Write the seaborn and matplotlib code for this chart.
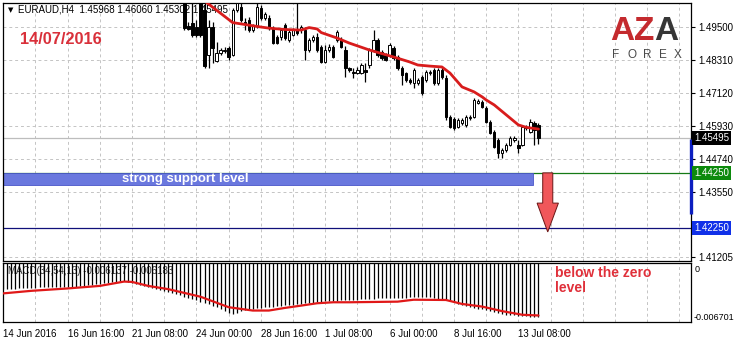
import numpy as np
import matplotlib
matplotlib.use("Agg")
import matplotlib.pyplot as plt
import seaborn as sns
from matplotlib.transforms import blended_transform_factory
from matplotlib.patches import Rectangle, Polygon
from matplotlib.ticker import FixedLocator, NullFormatter

# ---------------- data ----------------
symbol = "EURAUD,H4"
date_text = "14/07/2016"
last_ohlc = ["1.45968", "1.46060", "1.45302", "1.45495"]

candle_first_bar = 45
opens = [1.5085, 1.4955, 1.4966, 1.4951, 1.5066, 1.5012, 1.4850, 1.4951, 1.4828, 1.4857,
         1.4864, 1.4875, 1.4850, 1.5012, 1.5023, 1.4969, 1.4976, 1.4940, 1.4955, 1.5020,
         1.4984, 1.4984, 1.4947, 1.4915, 1.4915, 1.4958, 1.4904, 1.4922, 1.4940, 1.4940,
         1.4940, 1.4868, 1.4904, 1.4915, 1.4879, 1.4825, 1.4868, 1.4879, 1.4904, 1.4904,
         1.4868, 1.4803, 1.4789, 1.4785, 1.4785, 1.4796, 1.4814, 1.4868, 1.4904, 1.4861,
         1.4850, 1.4850, 1.4875, 1.4843, 1.4803, 1.4785, 1.4760, 1.4749, 1.4749, 1.4771,
         1.4760, 1.4785, 1.4796, 1.4749, 1.4796, 1.4767, 1.4627, 1.4619, 1.4590, 1.4605,
         1.4598, 1.4623, 1.4627, 1.4677, 1.4681, 1.4659, 1.4609, 1.4572, 1.4544, 1.4497,
         1.4508, 1.4526, 1.4544, 1.4526, 1.4526, 1.4590, 1.4572, 1.4605, 1.45968]
highs = [1.5103, 1.4969, 1.5056, 1.4976, 1.5085, 1.5048, 1.4976, 1.4969, 1.4897, 1.4875,
         1.4879, 1.4883, 1.5020, 1.5066, 1.5038, 1.4984, 1.4987, 1.4962, 1.5038, 1.5030,
         1.5005, 1.4994, 1.4955, 1.4922, 1.4947, 1.4966, 1.4940, 1.4947, 1.5048, 1.4958,
         1.4951, 1.4911, 1.4922, 1.4929, 1.4886, 1.4886, 1.4890, 1.4886, 1.4940, 1.4915,
         1.4883, 1.4807, 1.4803, 1.4807, 1.4821, 1.4821, 1.4875, 1.4940, 1.4911, 1.4868,
         1.4857, 1.4893, 1.4883, 1.4850, 1.4810, 1.4789, 1.4767, 1.4803, 1.4767, 1.4778,
         1.4796, 1.4796, 1.4803, 1.4803, 1.4807, 1.4778, 1.4634, 1.4627, 1.4623, 1.4623,
         1.4634, 1.4634, 1.4695, 1.4691, 1.4688, 1.4666, 1.4616, 1.4580, 1.4551, 1.4515,
         1.4533, 1.4558, 1.4558, 1.4544, 1.4598, 1.4598, 1.4619, 1.4612, 1.46060]
lows = [1.4940, 1.4940, 1.4915, 1.4915, 1.4915, 1.4803, 1.4803, 1.4821, 1.4825, 1.4850,
        1.4857, 1.4832, 1.4846, 1.5005, 1.4969, 1.4940, 1.4933, 1.4933, 1.4947, 1.4976,
        1.4976, 1.4940, 1.4890, 1.4890, 1.4904, 1.4904, 1.4897, 1.4919, 1.4922, 1.4929,
        1.4832, 1.4861, 1.4897, 1.4861, 1.4821, 1.4821, 1.4861, 1.4839, 1.4897, 1.4875,
        1.4771, 1.4789, 1.4767, 1.4782, 1.4782, 1.4753, 1.4803, 1.4861, 1.4843, 1.4832,
        1.4828, 1.4843, 1.4832, 1.4796, 1.4742, 1.4753, 1.4746, 1.4731, 1.4742, 1.4706,
        1.4753, 1.4778, 1.4742, 1.4742, 1.4764, 1.4616, 1.4587, 1.4580, 1.4587, 1.4598,
        1.4590, 1.4616, 1.4623, 1.4673, 1.4659, 1.4605, 1.4565, 1.4515, 1.4479, 1.4479,
        1.4500, 1.4522, 1.4536, 1.4497, 1.4522, 1.4580, 1.4569, 1.4526, 1.45302]
closes = [1.4947, 1.4944, 1.4922, 1.4922, 1.4922, 1.4810, 1.4951, 1.4875, 1.4857, 1.4868,
          1.4868, 1.4843, 1.5012, 1.5038, 1.4976, 1.4962, 1.4940, 1.4955, 1.5023, 1.4984,
          1.4998, 1.4947, 1.4893, 1.4893, 1.4940, 1.4911, 1.4933, 1.4940, 1.4929, 1.4951,
          1.4868, 1.4904, 1.4915, 1.4868, 1.4825, 1.4868, 1.4879, 1.4843, 1.4933, 1.4879,
          1.4803, 1.4796, 1.4785, 1.4796, 1.4814, 1.4789, 1.4868, 1.4904, 1.4850, 1.4839,
          1.4832, 1.4886, 1.4839, 1.4803, 1.4778, 1.4760, 1.4753, 1.4796, 1.4760, 1.4713,
          1.4789, 1.4789, 1.4749, 1.4796, 1.4771, 1.4627, 1.4590, 1.4587, 1.4616, 1.4616,
          1.4627, 1.4627, 1.4688, 1.4684, 1.4663, 1.4609, 1.4569, 1.4519, 1.4497, 1.4508,
          1.4526, 1.4551, 1.4551, 1.4515, 1.4590, 1.4587, 1.4609, 1.4580, 1.45495]

ma_bars = [49, 51, 57, 64, 66, 70, 74, 76, 78, 79, 83, 86, 91, 97, 101, 103, 106, 109,
           111, 114, 117, 119, 120, 122, 125, 128, 130, 133]
ma_values = [1.5057, 1.5034, 1.4967, 1.4951, 1.4947, 1.4942, 1.4940, 1.4949, 1.4944, 1.4931,
             1.4911, 1.4893, 1.4868, 1.4843, 1.4825, 1.4814, 1.4810, 1.4807, 1.4785, 1.4735,
             1.4717, 1.4699, 1.4688, 1.4670, 1.4634, 1.4598, 1.4589, 1.4583]

macd_hist = [-0.00297, -0.00294, -0.00292, -0.00290, -0.00288, -0.00285, -0.00282, -0.00280,
             -0.00279, -0.00278, -0.00278, -0.00278, -0.00277, -0.00277, -0.00277, -0.00276,
             -0.00274, -0.00271, -0.00268, -0.00264, -0.00260, -0.00253, -0.00246, -0.00239,
             -0.00233, -0.00229, -0.00225, -0.00220, -0.00216, -0.00210, -0.00204, -0.00212,
             -0.00222, -0.00233, -0.00245, -0.00258, -0.00269, -0.00280, -0.00292, -0.00304,
             -0.00315, -0.00328, -0.00341, -0.00355, -0.00369, -0.00383, -0.00397, -0.00411,
             -0.00425, -0.00440, -0.00455, -0.00470, -0.00486, -0.00502, -0.00525, -0.00548,
             -0.00570, -0.00577, -0.00570, -0.00542, -0.00532, -0.00526, -0.00521, -0.00515,
             -0.00509, -0.00504, -0.00500, -0.00496, -0.00492, -0.00487, -0.00482, -0.00477,
             -0.00472, -0.00467, -0.00463, -0.00458, -0.00454, -0.00450, -0.00446, -0.00441,
             -0.00437, -0.00432, -0.00428, -0.00426, -0.00424, -0.00422, -0.00420, -0.00417,
             -0.00415, -0.00412, -0.00409, -0.00407, -0.00405, -0.00403, -0.00401, -0.00400,
             -0.00399, -0.00398, -0.00397, -0.00394, -0.00392, -0.00390, -0.00390, -0.00390,
             -0.00390, -0.00390, -0.00391, -0.00398, -0.00405, -0.00413, -0.00420, -0.00433,
             -0.00448, -0.00462, -0.00478, -0.00490, -0.00500, -0.00510, -0.00519, -0.00525,
             -0.00534, -0.00545, -0.00558, -0.00570, -0.00578, -0.00585, -0.00590, -0.00596,
             -0.00600, -0.00604, -0.00607, -0.00610, -0.00612, -0.00614]
signal_bars = [0, 7, 16, 24, 30, 32, 36, 41, 49, 56, 59, 62, 66, 70, 74, 78, 82, 86, 98,
               102, 110, 114, 119, 124, 129, 133]
signal_values = [-0.00345, -0.00316, -0.00289, -0.00260, -0.00211, -0.00215, -0.00260,
                 -0.00297, -0.00383, -0.00502, -0.00521, -0.00540, -0.00540, -0.00510,
                 -0.00484, -0.00457, -0.00446, -0.00446, -0.00439, -0.00417, -0.00420,
                 -0.00465, -0.00495, -0.00547, -0.00588, -0.00596]
macd_label = "MACD(34,54,13) -0.006137 -0.006183"
macd_min_label = "-0.006701"

x_tick_bars = [0, 16, 32, 48, 64, 80, 96, 112, 128]
x_tick_labels = ["14 Jun 2016", "16 Jun 16:00", "21 Jun 08:00", "24 Jun 00:00",
                 "28 Jun 16:00", "1 Jul 08:00", "6 Jul 00:00", "8 Jul 16:00", "13 Jul 08:00"]
price_ticks = [1.49500, 1.48310, 1.47120, 1.45930, 1.44740, 1.43550, 1.41205]
price_tick_labels = ["1.49500", "1.48310", "1.47120", "1.45930", "1.44740", "1.43550", "1.41205"]

bid_price = 1.45495
support_level = 1.44250
target_level = 1.42250
support_zone_bottom = 1.43802
support_zone_end_bar = 131.6
support_text = "strong support level"
macd_note = "below the zero\nlevel"

# ---------------- style ----------------
sns.set_style("white")
plt.rcParams['font.family'] = ['Liberation Sans', 'DejaVu Sans']

W, H = 734, 343
fig = plt.figure(figsize=(W / 100, H / 100), dpi=100)
fig.patch.set_facecolor("white")


def fx(x):
    return x / W


def fy(y):
    return 1 - y / H


ax = fig.add_axes([fx(3), fy(261), fx(691) - fx(3), fy(3) - fy(261)])
axm = fig.add_axes([fx(3), fy(322), fx(691) - fx(3), fy(263) - fy(322)], sharex=ax)

for a in (ax, axm):
    for s in a.spines.values():
        s.set_color("black")
        s.set_linewidth(0.9)
    a.set_facecolor("white")

ax.set_xlim(-0.075, 170.9)
ax.set_ylim(1.41072, 1.50376)
axm.set_ylim(-0.006701, 0.0)

grid_kw = dict(color="#c4c4c4", linestyle=(0, (3, 3)), linewidth=0.7)
minor_bars = list(range(8, 171, 8))
for a in (ax, axm):
    a.xaxis.set_minor_locator(FixedLocator(minor_bars))
    a.xaxis.set_minor_formatter(NullFormatter())
    a.grid(True, which="both", axis="x", **grid_kw)
    a.set_axisbelow(True)

axm.set_xticks(x_tick_bars)
axm.set_xticklabels(x_tick_labels)
for lab in axm.get_xticklabels():
    lab.set_horizontalalignment("left")
axm.tick_params(axis="x", which="major", length=3, width=0.8, pad=2, labelsize=7, colors="black")
axm.tick_params(axis="x", which="minor", length=0)
axm.set_yticks([])
ax.tick_params(axis="x", which="both", length=0, labelbottom=False)

ax.set_yticks(price_ticks)
ax.set_yticklabels(price_tick_labels)
ax.yaxis.tick_right()
ax.tick_params(axis="y", length=3, width=0.8, pad=2, labelsize=7, colors="black")
ax.grid(True, which="major", axis="y", **grid_kw)

# ---------------- main panel ----------------
bars = np.arange(candle_first_bar, candle_first_bar + len(opens))
o = np.array(opens)
h = np.array(highs)
l = np.array(lows)
c = np.array(closes)
up = c >= o
body_lo = np.minimum(o, c)
body_h = np.maximum(np.abs(c - o), 0.00008)

ax.vlines(bars, l, h, color="black", linewidth=0.9, zorder=3)
ax.bar(bars[up], body_h[up], bottom=body_lo[up], width=0.58, color="white",
       edgecolor="black", linewidth=0.7, zorder=4)
ax.bar(bars[~up], body_h[~up], bottom=body_lo[~up], width=0.58, color="black",
       edgecolor="black", linewidth=0.7, zorder=4)

sns.lineplot(x=ma_bars, y=ma_values, ax=ax, color="#d81c1c", linewidth=2.0,
             estimator=None, sort=False, zorder=5)

# bid line and levels
ax.axhline(bid_price, color="#bdbdbd", linewidth=0.9, zorder=1)
ax.axhline(support_level, color="#157a15", linewidth=0.9, zorder=2)
ax.axhline(target_level, color="#10107a", linewidth=0.9, zorder=2)

# support zone
ax.add_patch(Rectangle((-0.075, support_zone_bottom), support_zone_end_bar + 0.075,
                       support_level - support_zone_bottom, facecolor="#6a78de",
                       edgecolor="#4a56c8", linewidth=0.6, zorder=2))
ax.text(29.6, (support_level + support_zone_bottom) / 2, support_text, color="white",
        fontsize=9.5, fontweight="bold", va="center", ha="left", zorder=3)

# red down arrow
arrow_bar = 135.3
shaft_half = 1.25
head_half = 2.65
head_start = 1.4316
arrow_tip = 1.4212
arrow_pts = [(arrow_bar - shaft_half, support_level), (arrow_bar + shaft_half, support_level),
             (arrow_bar + shaft_half, head_start), (arrow_bar + head_half, head_start),
             (arrow_bar, arrow_tip), (arrow_bar - head_half, head_start),
             (arrow_bar - shaft_half, head_start)]
ax.add_patch(Polygon(arrow_pts, closed=True, facecolor="#f0575a", edgecolor="#6a1515",
                     linewidth=0.7, zorder=6))

# right side marker bar
bt = blended_transform_factory(ax.transAxes, ax.transData)
ax.plot([0.9993, 0.9993], [1.4547, 1.4277], transform=bt, color="#0c1ec0",
        linewidth=2.4, solid_capstyle="butt", clip_on=False, zorder=7)

# price label boxes
for price, fc in ((bid_price, "black"), (support_level, "#0c8a0c"), (target_level, "#1030e8")):
    ax.text(1.0045, price, f"{price:.5f}", transform=bt, ha="left", va="center",
            fontsize=7, color="white", zorder=8, clip_on=False,
            bbox=dict(boxstyle="square,pad=0.2", facecolor=fc, edgecolor="none"))

# header texts
ax.text(fx(8), fy(10), "\u25BC", transform=fig.transFigure, fontsize=5, color="black",
        va="center", ha="left", family="DejaVu Sans", zorder=1)
ax.text(fx(18), fy(10), symbol + "  " + " ".join(last_ohlc), transform=fig.transFigure,
        fontsize=7, color="black", va="center", ha="left", zorder=1)
ax.text(fx(20), fy(40), date_text, transform=fig.transFigure, fontsize=11.8,
        color="#d9303a", va="center", ha="left", fontweight="bold", zorder=1)

# logo
for ch, xc, col in (("A", 622, "#c42a2e"), ("Z", 644, "#c42a2e"), ("A", 666, "#363636")):
    ax.text(fx(xc), fy(31), ch, transform=fig.transFigure, fontsize=24, fontweight="bold",
            color=col, ha="center", va="center", zorder=1)
for k, ch in enumerate("FOREX"):
    ax.text(fx(616 + 15.5 * k), fy(55), ch, transform=fig.transFigure, fontsize=8.5,
            color="#4a4a4a", ha="center", va="center", zorder=1)

# ---------------- MACD panel ----------------
hist_bars = np.arange(len(macd_hist))
axm.vlines(hist_bars, 0, macd_hist, color="black", linewidth=0.9, zorder=2)
sns.lineplot(x=signal_bars, y=signal_values, ax=axm, color="#e01818", linewidth=1.6,
             estimator=None, sort=False, zorder=3)
axm.set_xlabel("")
axm.set_ylabel("")
ax.set_xlabel("")
ax.set_ylabel("")

axm.text(fx(8), fy(271), macd_label, transform=fig.transFigure, fontsize=7,
         color="#303030", va="center", ha="left", zorder=1)
axm.text(fx(555), fy(266), macd_note, transform=fig.transFigure, fontsize=10,
         fontweight="bold", color="#e0303a", va="top", ha="left", linespacing=1.1, zorder=4)
fig.text(fx(695), fy(270), "0", fontsize=6.5, color="black", va="center", ha="left")
fig.text(fx(694), fy(317), macd_min_label, fontsize=6.5, color="black", va="center", ha="left")

fig.savefig("out.png", dpi=100)
